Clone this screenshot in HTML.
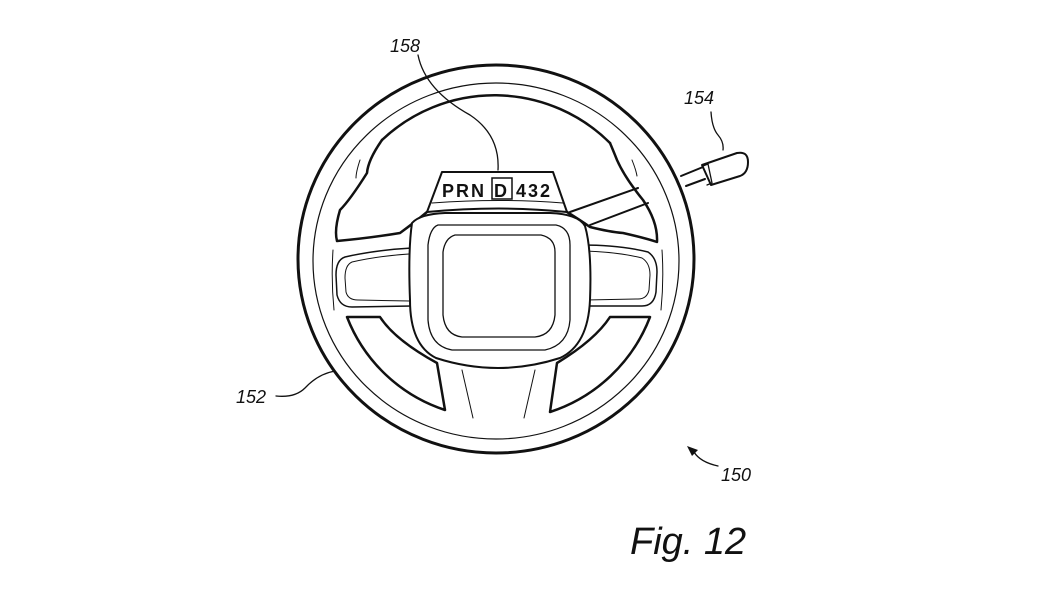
<!DOCTYPE html>
<html><head><style>
html,body{margin:0;padding:0;background:#fff;}
svg{display:block;}
text{font-family:"Liberation Sans",sans-serif;fill:#111;}
</style></head><body>
<svg width="1046" height="589" viewBox="0 0 1046 589" xmlns="http://www.w3.org/2000/svg">
<rect width="1046" height="589" fill="#fff"/>
<g fill="none" stroke="#111" stroke-linejoin="round" stroke-linecap="round">
<!-- rim -->
<ellipse cx="496" cy="259" rx="198" ry="194" stroke-width="3"/>
<ellipse cx="496" cy="261" rx="183" ry="178" stroke-width="1.2"/>
<path d="M382 140 A163 162 0 0 1 610 143" stroke-width="2.5"/>
<!-- stalk outside -->
<path d="M681 176 L703 167 M686 186 L705 179" stroke-width="2"/>
<path d="M702 165 L737 153 Q748 151 748 162 Q748 173 740 176 L711 185 Z" fill="#fff" stroke-width="2"/>
<path d="M703 166 L708 164 L712 183 L707 185" stroke-width="1.3"/>
<!-- stalk inside -->
<path d="M570 212 L638 188 M590 225 L648 203" stroke-width="2"/>
<path d="M382 140 Q368 160 367 173 Q350 200 340 210 Q334 230 337 241 Q370 238 400 233 Q415 222 427 212" stroke-width="2.5"/>
<path d="M567 212 Q580 220 590 227 Q610 232 623 233 Q645 238 657 242 Q658 222 643 200 Q625 178 617 160 Q613 150 610 143" stroke-width="2.5"/>
<path d="M360 160 Q356 172 356 178 M632 160 Q636 170 637 176" stroke-width="1"/>
<path d="M427 212 L442 172 L553 172 L567 212 Q500 205 427 212 Z" fill="#fff" stroke-width="2"/>
<path d="M432 203 Q500 198 563 203" stroke-width="1"/>
<!-- lower openings -->
<path d="M347 317 L380 317 Q395 340 437 363 L445 410 A158 158 0 0 1 347 317 Z" fill="#fff" stroke-width="2.5"/>
<path d="M650 317 L610 317 Q595 340 557 363 L550 412 A160 160 0 0 0 650 317 Z" fill="#fff" stroke-width="2.5"/>
<path d="M462 370 L473 418 M535 370 L524 418" stroke-width="1"/>
<!-- side pads -->
<path d="M412 248 Q375 250 345 257 Q336 260 336 275 L337 295 Q340 307 352 307 L412 306" fill="#fff" stroke-width="1.5"/>
<path d="M409 254 Q378 256 352 262 Q345 265 345 278 L346 292 Q348 300 358 300 L410 301" stroke-width="1"/>
<path d="M582 245 Q620 245 648 252 Q657 258 657 272 L656 292 Q654 306 642 306 L584 306" fill="#fff" stroke-width="1.5"/>
<path d="M585 251 Q618 252 642 258 Q650 263 650 275 L649 290 Q647 299 638 299 L586 300" stroke-width="1"/>
<path d="M333 250 Q331 280 334 310 M662 250 Q664 280 661 310" stroke-width="1"/>
<!-- hub -->
<path d="M412 223 Q420 214 445 213 L550 213 Q578 214 585 226 Q592 250 590 300 Q588 345 560 358 Q498 378 436 358 Q410 345 410 300 Q408 250 412 223 Z" fill="#fff" stroke-width="2"/>
<path d="M438 225 L556 225 Q570 228 570 245 L570 320 Q568 345 545 350 L452 350 Q430 346 428 320 L428 245 Q430 228 438 225 Z" stroke-width="1.3"/>
<path d="M455 235 L541 235 Q555 238 555 252 L555 315 Q553 335 535 337 L462 337 Q445 335 443 315 L443 252 Q445 238 455 235 Z" stroke-width="1.3"/>
<!-- leaders -->
<path d="M418 55 Q425 90 470 115 Q500 135 498 170" stroke-width="1.3"/>
<path d="M711 112 Q712 128 718 135 Q724 142 723 150" stroke-width="1.3"/>
<path d="M276 396 Q295 398 305 388 Q318 374 335 371" stroke-width="1.3"/>
<path d="M718 466 Q700 462 694 452" stroke-width="1.3"/>
</g>
<path d="M687 446 L698 450 L692 456 Z" fill="#111"/>
<rect x="492" y="178" width="20" height="21" fill="none" stroke="#111" stroke-width="1.5"/>
<text x="442" y="197" font-size="18" font-weight="bold" letter-spacing="2">PRN<tspan x="494">D</tspan><tspan x="516">432</tspan></text>
<text x="390" y="52" font-size="18" font-style="italic">158</text>
<text x="684" y="104" font-size="18" font-style="italic">154</text>
<text x="236" y="403" font-size="18" font-style="italic">152</text>
<text x="721" y="481" font-size="18" font-style="italic">150</text>
<text x="630" y="554" font-size="38" font-style="italic">Fig. 12</text>
</svg>
</body></html>
